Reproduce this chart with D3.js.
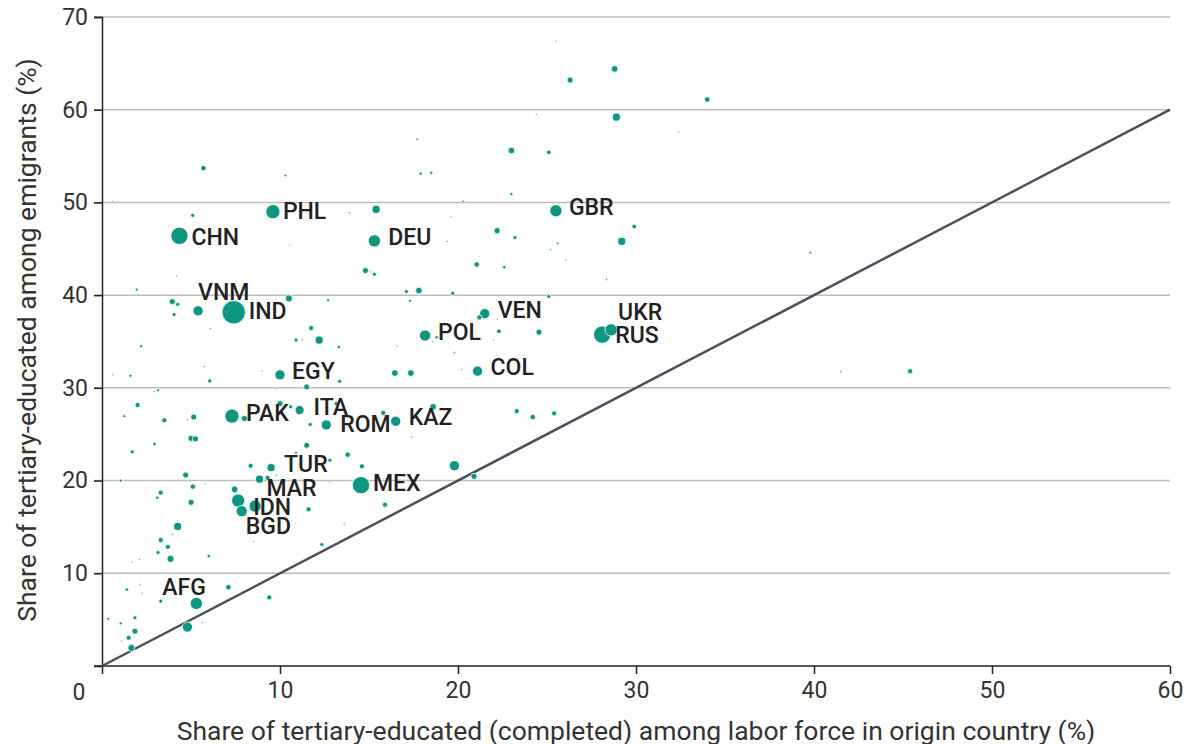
<!DOCTYPE html>
<html>
<head>
<meta charset="utf-8">
<script src="https://cdn.jsdelivr.net/npm/d3@7"></script>
<style>
  html, body { margin: 0; padding: 0; background: #fff; }
  svg { display: block; font-family: Roboto, "Noto Sans", sans-serif; }
</style>
</head>
<body>
<svg id="chart" width="1192" height="744"></svg>
<script>
// ---- DATA ----
// Share of tertiary-educated (completed) among labor force in origin country (%)
const laborShare = [
  25.5, 28.8, 26.3, 34.0, 28.9, 24.4, 32.4, 17.7, 23.0, 25.1,
  5.7, 10.3, 17.9, 18.5, 23.0, 20.3, 19.6, 0.6, 5.1, 9.6,
  13.9, 15.4, 25.5, 26.3, 22.2, 23.2, 29.9, 29.2, 19.4, 25.6,
  25.2, 26.05, 21.05, 22.6, 28.35, 17.1, 17.8, 19.7, 25.1, 17.3,
  21.5, 21.2, 22.2, 22.3, 24.55, 18.8, 18.6, 18.15, 22.0, 28.6,
  28.1, 19.8, 20.2, 21.1, 17.35, 16.5, 18.6, 23.3, 24.2, 25.4,
  17.4, 19.8, 20.9, 39.8, 41.5, 45.4, 4.35, 15.3, 10.55, 14.8,
  15.3, 15.1, 4.2, 1.95, 3.95, 4.25, 10.5, 12.7, 4.05, 5.4,
  7.4, 6.1, 11.75, 10.9, 11.25, 12.2, 13.3, 16.6, 2.2, 5.75,
  9.0, 10.0, 13.35, 16.45, 0.6, 1.6, 6.05, 11.5, 3.15, 2.95,
  9.8, 2.0, 10.0, 10.6, 11.1, 13.15, 1.25, 3.5, 4.8, 5.15,
  7.3, 8.0, 11.7, 12.6, 15.8, 5.0, 5.25, 2.95, 1.7, 11.5,
  10.9, 13.8, 8.35, 9.5, 12.8, 14.6, 4.7, 8.85, 9.3, 9.8,
  1.05, 5.8, 12.8, 14.55, 5.1, 3.3, 3.1, 7.45, 7.65, 7.85,
  8.6, 5.0, 11.6, 15.9, 4.25, 3.95, 13.6, 8.5, 3.3, 3.7,
  3.15, 3.85, 6.0, 1.7, 2.1, 12.35, 1.4, 2.15, 2.25, 7.1,
  3.3, 5.3, 9.4, 0.35, 1.05, 1.85, 5.65, 4.8, 1.85, 1.5,
  1.1, 1.65
];
// Share of tertiary-educated among emigrants (%)
const emigrantShare = [
  67.4, 64.4, 63.2, 61.1, 59.2, 59.5, 57.6, 56.8, 55.6, 55.4,
  53.7, 52.9, 53.1, 53.2, 50.9, 50.1, 48.5, 50.1, 48.6, 49.0,
  48.9, 49.25, 49.1, 50.1, 46.95, 46.2, 47.4, 45.8, 45.8, 45.6,
  44.9, 43.8, 43.3, 43.0, 41.7, 40.4, 40.5, 40.2, 39.85, 39.4,
  38.0, 37.6, 37.4, 36.1, 36.0, 35.45, 35.0, 35.65, 35.15, 36.25,
  35.75, 33.8, 32.0, 31.8, 31.6, 26.4, 27.95, 27.5, 26.85, 27.25,
  24.7, 21.6, 20.45, 44.6, 31.75, 31.8, 46.4, 45.85, 45.4, 42.65,
  42.25, 42.5, 42.05, 40.6, 39.3, 39.0, 39.65, 39.45, 37.9, 38.3,
  38.15, 36.4, 36.45, 35.15, 35.25, 35.15, 34.4, 34.5, 34.5, 32.3,
  31.8, 31.4, 30.7, 31.6, 31.4, 31.3, 30.75, 30.1, 29.75, 29.6,
  29.9, 28.15, 28.3, 27.95, 27.6, 28.3, 26.95, 26.5, 26.6, 26.85,
  26.95, 26.7, 26.05, 26.0, 27.3, 24.55, 24.5, 23.95, 23.1, 23.8,
  23.0, 22.8, 21.6, 21.4, 22.2, 21.55, 20.6, 20.15, 20.3, 20.55,
  20.0, 19.7, 19.9, 19.5, 19.35, 18.7, 18.15, 19.05, 17.85, 16.7,
  17.25, 17.65, 16.9, 17.4, 15.05, 14.2, 15.3, 13.45, 13.6, 12.85,
  12.25, 11.55, 11.85, 11.2, 11.5, 13.1, 8.25, 8.8, 7.85, 8.5,
  7.0, 6.75, 7.4, 5.1, 4.6, 5.2, 4.67, 4.2, 3.75, 3.05,
  2.7, 1.95
];
// Emigrant stock (bubble size, millions, estimated)
const emigrantStock = [
  0.1, 1.3, 1.1, 0.9, 1.9, 0.1, 0.08, 0.17, 1.3, 0.6,
  0.85, 0.2, 0.3, 0.3, 0.3, 0.17, 0.08, 0.06, 0.48, 5.8,
  0.12, 1.9, 4.3, 0.1, 1.1, 0.48, 0.63, 1.9, 0.06, 0.2,
  0.06, 0.06, 0.85, 0.34, 0.12, 0.48, 1.3, 0.48, 0.48, 0.27,
  3.0, 0.75, 0.06, 0.63, 1.07, 0.34, 0.06, 3.6, 0.06, 4.3,
  8.6, 0.12, 0.08, 3.0, 1.3, 3.0, 1.3, 0.75, 0.85, 0.75,
  0.12, 3.0, 1.07, 0.2, 0.12, 0.75, 8.6, 4.3, 0.08, 1.07,
  0.48, 0.1, 0.05, 0.27, 1.07, 0.48, 1.45, 0.27, 0.48, 3.0,
  15.7, 0.05, 0.75, 0.48, 0.06, 1.9, 0.34, 0.06, 0.27, 0.06,
  0.06, 3.0, 0.48, 1.3, 0.05, 0.27, 0.48, 1.07, 0.27, 0.06,
  0.06, 0.75, 1.07, 0.48, 2.4, 0.48, 0.27, 0.75, 0.06, 1.07,
  5.8, 1.07, 0.48, 3.0, 0.75, 1.07, 1.07, 0.34, 0.48, 1.07,
  0.27, 0.85, 0.75, 1.9, 0.48, 0.75, 1.07, 1.9, 0.75, 0.06,
  0.27, 0.05, 0.05, 8.6, 0.85, 0.75, 0.34, 1.3, 5.0, 3.6,
  4.3, 1.07, 0.75, 0.75, 1.9, 0.05, 0.12, 0.05, 0.75, 0.75,
  0.48, 1.45, 0.34, 0.05, 0.05, 0.48, 0.34, 0.05, 0.05, 0.85,
  0.48, 4.3, 0.75, 0.27, 0.27, 0.48, 0.05, 3.0, 1.07, 0.75,
  0.05, 1.45
];
// Country code labels (empty = not labelled)
const countryCode = [
  "", "", "", "", "", "", "", "", "", "",
  "", "", "", "", "", "", "", "", "", "PHL",
  "", "", "GBR", "", "", "", "", "", "", "",
  "", "", "", "", "", "", "", "", "", "",
  "VEN", "", "", "", "", "", "", "POL", "", "UKR",
  "RUS", "", "", "COL", "", "KAZ", "", "", "", "",
  "", "", "", "", "", "", "CHN", "DEU", "", "",
  "", "", "", "", "", "", "", "", "", "VNM",
  "IND", "", "", "", "", "", "", "", "", "",
  "", "EGY", "", "", "", "", "", "", "", "",
  "", "", "", "", "ITA", "", "", "", "", "",
  "PAK", "", "", "ROM", "", "", "", "", "", "",
  "", "", "", "TUR", "", "", "", "MAR", "", "",
  "", "", "", "MEX", "", "", "", "", "IDN", "BGD",
  "", "", "", "", "", "", "", "", "", "",
  "", "", "", "", "", "", "", "", "", "",
  "", "AFG", "", "", "", "", "", "", "", "",
  "", ""
];
const xTicks = [0, 10, 20, 30, 40, 50, 60];
const yTicks = [10, 20, 30, 40, 50, 60, 70];
const xTitle = "Share of tertiary-educated (completed) among labor force in origin country (%)";
const yTitle = "Share of tertiary-educated among emigrants (%)";

// ---- LAYOUT (label placement offsets, px) ----
const labelOffset = {
  PHL: [10, 0], CHN: [12, 2], DEU: [14, -3], GBR: [13, -3], VNM: [0, -18],
  IND: [15, -1], VEN: [13, -3], POL: [13, -3], UKR: [7, -17], RUS: [13, 1],
  COL: [13, -4], EGY: [12, -3], ITA: [14, -3], PAK: [14, -3], ROM: [14, 0],
  KAZ: [13, -4], TUR: [13, -3], MAR: [7, 9], IDN: [15, 7], BGD: [4, 15],
  MEX: [12, -2], AFG: [-34, -16]
};

const svg = d3.select("#chart");
const W = 1192, H = 744;
const m = { left: 102, right: 22, top: 17, bottom: 78 };
const x = d3.scaleLinear().domain([0, 60]).range([m.left, W - m.right]);
const y = d3.scaleLinear().domain([0, 70]).range([H - m.bottom, m.top]);
const r = d3.scaleSqrt().domain([0, 16]).range([0, 11.8]);

const points = laborShare.map((v, i) => ({
  lx: v, ey: emigrantShare[i], s: emigrantStock[i], code: countryCode[i]
}));

// gridlines
svg.append("g")
  .selectAll("line")
  .data(yTicks)
  .join("line")
  .attr("x1", m.left - 8).attr("x2", x(60))
  .attr("y1", d => y(d)).attr("y2", d => y(d))
  .attr("stroke", "#bdbdbd").attr("stroke-width", 1.5);

// y axis
const yAxis = svg.append("g")
  .attr("transform", `translate(${m.left},0)`)
  .call(d3.axisLeft(y).tickValues(yTicks).tickSize(8).tickPadding(6));
yAxis.select(".domain").attr("stroke", "#222").attr("stroke-width", 1.5);
yAxis.selectAll(".tick line").attr("stroke", "#222").attr("stroke-width", 1.5);
yAxis.selectAll(".tick text").attr("font-size", 23).attr("fill", "#333")
  .attr("font-family", "Roboto");

// x axis
const xAxis = svg.append("g")
  .attr("transform", `translate(0,${y(0)})`)
  .call(d3.axisBottom(x).tickValues(xTicks).tickSize(8).tickPadding(8)
    .tickFormat(d => d === 0 ? "" : d));
xAxis.select(".domain").attr("stroke", "#222").attr("stroke-width", 1.5)
  .attr("d", `M${m.left - 8},0H${x(60)}`);
xAxis.selectAll(".tick line").attr("stroke", "#222").attr("stroke-width", 1.5);
xAxis.selectAll(".tick text").attr("font-size", 23).attr("fill", "#333")
  .attr("font-family", "Roboto");
// shared origin label
svg.append("text")
  .attr("x", m.left - 23).attr("y", y(0) + 26)
  .attr("text-anchor", "middle").attr("dominant-baseline", "central")
  .attr("font-size", 23).attr("fill", "#333").text("0");

// diagonal 45-degree line
svg.append("line")
  .attr("x1", x(0)).attr("y1", y(0)).attr("x2", x(60)).attr("y2", y(60))
  .attr("stroke", "#4a505e").attr("stroke-width", 2.5);

// bubbles
const sorted = points.slice().sort((a, b) => b.s - a.s);
svg.append("g")
  .selectAll("circle")
  .data(sorted)
  .join("circle")
  .attr("cx", d => x(d.lx)).attr("cy", d => y(d.ey))
  .attr("r", d => Math.max(0.9, r(d.s)))
  .attr("fill", "#0e9682")
  .attr("stroke", "#fff").attr("stroke-width", 0.8);

// labels
svg.append("g")
  .selectAll("text")
  .data(points.filter(d => d.code))
  .join("text")
  .attr("x", d => x(d.lx) + labelOffset[d.code][0])
  .attr("y", d => y(d.ey) + labelOffset[d.code][1])
  .attr("dominant-baseline", "central")
  .attr("font-size", 23).attr("font-weight", 500).attr("fill", "#222")
  .text(d => d.code);

// axis titles
svg.append("text")
  .attr("x", 636).attr("y", 730)
  .attr("text-anchor", "middle").attr("dominant-baseline", "central")
  .attr("font-size", 26.5).attr("fill", "#333").text(xTitle);
svg.append("text")
  .attr("transform", `translate(26,${340}) rotate(-90)`)
  .attr("text-anchor", "middle").attr("dominant-baseline", "central")
  .attr("font-size", 26.5).attr("fill", "#333").text(yTitle);
</script>
</body>
</html>
